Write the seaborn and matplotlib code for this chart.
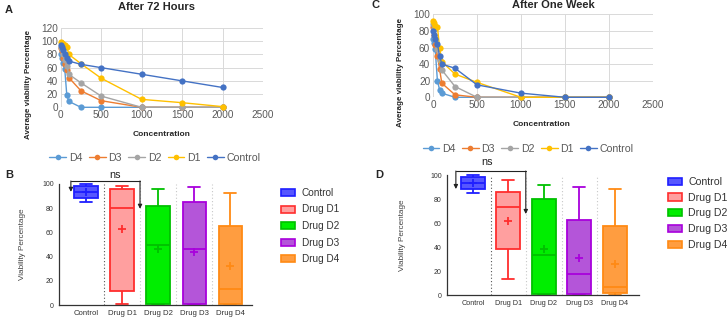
import numpy as np
import pandas as pd
import matplotlib
matplotlib.use('Agg')
import matplotlib.pyplot as plt
import seaborn as sns
from matplotlib.patches import Patch
from matplotlib.lines import Line2D

sns.set_theme(style='white')
plt.rcParams['font.family'] = ['Liberation Sans', 'DejaVu Sans']

# ---------------- data: line charts ----------------
concentration = [5, 10, 25, 50, 75, 100, 250, 500, 1000, 1500, 2000]
series_names = ['D4', 'D3', 'D2', 'D1', 'Control']

h72_control = [95, 92, 87, 80, 74, 70, 65, 60, 50, 40, 30]
h72_d1 = [99, 98, 96, 94, 92, 80, 66, 44, 12, 7, 1]
h72_d2 = [92, 88, 80, 72, 62, 50, 37, 17, 0, 0, 0]
h72_d3 = [90, 85, 75, 65, 57, 45, 25, 10, 0, 0, 0]
h72_d4 = [80, 75, 67, 58, 19, 9, 0, 0, 0, 0, 0]

wk_control = [80, 75, 70, 64, 50, 40, 35, 15, 5, 0, 0]
wk_d1 = [92, 90, 86, 85, 60, 43, 28, 18, 0, 0, 0]
wk_d2 = [88, 82, 70, 58, 45, 33, 13, 0, 0, 0, 0]
wk_d3 = [85, 75, 63, 50, 34, 17, 3, 0, 0, 0, 0]
wk_d4 = [70, 65, 58, 20, 9, 5, 0, 0, 0, 0, 0]

line_colors = {'D4': '#5B9BD5', 'D3': '#ED7D31', 'D2': '#A5A5A5',
               'D1': '#FFC000', 'Control': '#4472C4'}

# ---------------- data: box plots ----------------
groups = ['Control', 'Drug D1', 'Drug D2', 'Drug D3', 'Drug D4']
# min, Q1, median, Q3, max
b_control = [85, 88.7, 93, 98.3, 100]
b_d1 = [0.8, 11.6, 80.4, 95.6, 98.6]
b_d2 = [0, 1, 49.4, 81.5, 95.9]
b_d3 = [0, 1, 46, 84.8, 97.8]
b_d4 = [0, 1, 13.5, 65.7, 92.8]
b_means = [93, 62.4, 46.4, 43.4, 32.3]

d_control = [85, 88.4, 93.1, 98.6, 100]
d_d1 = [13, 38.5, 73, 85.6, 96]
d_d2 = [0, 0.5, 33.2, 79.8, 91.4]
d_d3 = [0, 0.5, 17.2, 62.9, 90.3]
d_d4 = [0, 1.5, 6.6, 57.6, 88.4]
d_means = [93, 61.7, 38, 31, 25.8]

fill_colors = {'Control': '#5757ff', 'Drug D1': '#ff9f9f', 'Drug D2': '#00ee00',
               'Drug D3': '#b455d9', 'Drug D4': '#ff9d40'}
edge_colors = {'Control': '#1f1fff', 'Drug D1': '#ff2d2d', 'Drug D2': '#00c000',
               'Drug D3': '#a800dc', 'Drug D4': '#ff8a14'}

W, H = 728, 318
fig = plt.figure(figsize=(W / 100, H / 100), dpi=100)


def rect(x0, x1, ytop, ybot):
    return [x0 / W, 1 - ybot / H, (x1 - x0) / W, (ybot - ytop) / H]


def line_panel(ax, vals, ymax, ylab_coords, xlab_coords, leg_anchor):
    df = pd.DataFrame({
        'Concentration': concentration * len(series_names),
        'value': np.concatenate([vals[s] for s in series_names]),
        'series': np.repeat(series_names, len(concentration)),
    })
    sns.lineplot(data=df, x='Concentration', y='value', hue='series',
                 hue_order=series_names, palette=line_colors, marker='o',
                 markersize=4.5, markeredgewidth=0, linewidth=1.0,
                 estimator=None, legend=False, ax=ax)
    for ln in ax.lines:
        ln.set_clip_on(False)
    ax.set_xlim(0, 2500)
    ax.set_ylim(0, ymax)
    ax.set_xticks(np.arange(0, 2501, 500))
    ax.set_yticks(np.arange(0, ymax + 1, 20))
    ax.grid(True, color='#D9D9D9', linewidth=0.7)
    ax.set_axisbelow(True)
    for sp in ax.spines.values():
        sp.set_visible(False)
    ax.tick_params(length=0, labelsize=7.2, colors='#595959', pad=2)
    ax.set_xlabel('Concentration', fontsize=6.0, fontweight='bold', color='#262626')
    ax.set_ylabel('Average viability Percentage', fontsize=5.8,
                  fontweight='bold', color='#262626')
    ax.xaxis.set_label_coords(*xlab_coords)
    ax.yaxis.set_label_coords(*ylab_coords)
    handles = [Line2D([], [], color=line_colors[s], marker='o', markersize=4,
                      markeredgewidth=0, linewidth=1.0) for s in series_names]
    ax.legend(handles, series_names, loc='center', bbox_to_anchor=leg_anchor,
              ncol=5, frameon=False, fontsize=7.6, handlelength=1.6,
              columnspacing=0.6, handletextpad=0.25, labelcolor='#595959')


def box_panel(ax, stats, means, width, xlim, ylab_x, xfs):
    df = pd.DataFrame({'group': np.repeat(groups, 5),
                       'value': np.concatenate(stats)})
    for g in groups:
        sns.boxplot(data=df[df['group'] == g], x='group', y='value', order=groups,
                    color=fill_colors[g], linecolor=edge_colors[g], saturation=1,
                    width=width, whis=(0, 100), showfliers=False,
                    linewidth=1.3, ax=ax)
    mdf = pd.DataFrame({'group': groups, 'mean': means})
    sns.pointplot(data=mdf, x='group', y='mean', hue='group', order=groups,
                  hue_order=groups, palette=edge_colors, markers='+',
                  linestyle='none', errorbar=None, legend=False,
                  markersize=6, markeredgewidth=1.3, ax=ax)
    for art in ax.lines + ax.patches:
        art.set_clip_on(False)
    ax.axvline(0.5, ymin=0, ymax=1, color='#555555', linestyle=(0, (1, 2)),
               linewidth=0.8, zorder=0)
    for xv in (1.5, 2.5, 3.5):
        ax.axvline(xv, ymin=0, ymax=1, color='#c8c8c8', linestyle=(0, (1, 2)),
                   linewidth=0.8, zorder=0)
    ax.set_xlim(*xlim)
    ax.set_ylim(0, 100)
    ax.set_yticks(np.arange(0, 101, 20))
    ax.set_xlabel('')
    ax.set_ylabel('Viability Percentage', fontsize=5.9, color='#444444')
    ax.yaxis.set_label_coords(ylab_x, 0.5)
    for sp in ('top', 'right'):
        ax.spines[sp].set_visible(False)
    for sp in ('left', 'bottom'):
        ax.spines[sp].set_color('#333333')
        ax.spines[sp].set_linewidth(0.9)
    ax.tick_params(axis='both', direction='out', length=2.5, width=0.8,
                   colors='#333333', labelsize=5.0, pad=1.2)
    ax.tick_params(axis='x', labelsize=xfs, pad=1.0)


def bracket(ax, x0, x1, ytop, yl, yr, tx, ty):
    kw = dict(color='#222222', linewidth=0.8, clip_on=False)
    ax.plot([x0, x1], [ytop, ytop], **kw)
    for xx, yy in ((x0, yl), (x1, yr)):
        ax.annotate('', xy=(xx, yy), xytext=(xx, ytop), annotation_clip=False,
                    arrowprops=dict(arrowstyle='-|>', color='#222222', lw=0.8,
                                    mutation_scale=6, shrinkA=0, shrinkB=0))
    ax.text(tx, ty, 'ns', fontsize=7.8, ha='center', va='center',
            color='#222222', clip_on=False)


# ---------- Panel A ----------
axA = fig.add_axes(rect(60.7, 263, 28, 107.3))
line_panel(axA, {'D4': h72_d4, 'D3': h72_d3, 'D2': h72_d2, 'D1': h72_d1,
                 'Control': h72_control}, 120,
           (-0.142, 0.29), (0.5, -0.30), (0.466, -0.64))
fig.text(156 / W, 1 - 7 / H, 'After 72 Hours', fontsize=8, fontweight='bold',
         ha='center', va='center', color='#262626')
fig.text(5 / W, 1 - 10 / H, 'A', fontsize=8, fontweight='bold', ha='left', va='center')

# ---------- Panel C ----------
axC = fig.add_axes(rect(433, 653, 14.3, 97.3))
line_panel(axC, {'D4': wk_d4, 'D3': wk_d3, 'D2': wk_d2, 'D1': wk_d1,
                 'Control': wk_control}, 100,
           (-0.132, 0.30), (0.494, -0.29), (0.432, -0.62))
fig.text(553 / W, 1 - 5 / H, 'After One Week', fontsize=8, fontweight='bold',
         ha='center', va='center', color='#262626')
fig.text(372 / W, 1 - 5 / H, 'C', fontsize=8, fontweight='bold', ha='left', va='center')

# ---------- Panel B ----------
axB = fig.add_axes(rect(59, 252, 184, 305))
box_panel(axB, [b_control, b_d1, b_d2, b_d3, b_d4], b_means, 0.64,
          (-0.75, 4.61), -0.171, 5.6)
bracket(axB, -0.42, 1.5, 102.5, 93.5, 79.5, 0.8, 107.5)
fig.text(5 / W, 1 - 175 / H, 'B', fontsize=8, fontweight='bold', ha='left', va='center')
hB = [Patch(facecolor=fill_colors[g], edgecolor=edge_colors[g], linewidth=1.2)
      for g in groups]
fig.legend(hB, groups, loc='upper left', bbox_to_anchor=(281 / W, 1 - 188 / H),
           frameon=False, fontsize=7.2, handlelength=1.35, handleheight=0.7,
           labelspacing=0.65, handletextpad=0.75, borderpad=0, borderaxespad=0,
           labelcolor='#333333')

# ---------- Panel D ----------
axD = fig.add_axes(rect(447, 639, 175, 295))
box_panel(axD, [d_control, d_d1, d_d2, d_d3, d_d4], d_means, 0.68,
          (-0.73, 4.68), -0.214, 5.2)
bracket(axD, -0.48, 1.49, 103.3, 88.3, 67.5, 0.39, 110.8)
fig.text(375 / W, 1 - 175 / H, 'D', fontsize=8, fontweight='bold', ha='left', va='center')
hD = [Patch(facecolor=fill_colors[g], edgecolor=edge_colors[g], linewidth=1.2)
      for g in groups]
fig.legend(hD, groups, loc='upper left', bbox_to_anchor=(668 / W, 1 - 177 / H),
           frameon=False, fontsize=7.6, handlelength=1.3, handleheight=0.65,
           labelspacing=0.54, handletextpad=0.6, borderpad=0, borderaxespad=0,
           labelcolor='#333333')

fig.savefig('out.png', dpi=100)
